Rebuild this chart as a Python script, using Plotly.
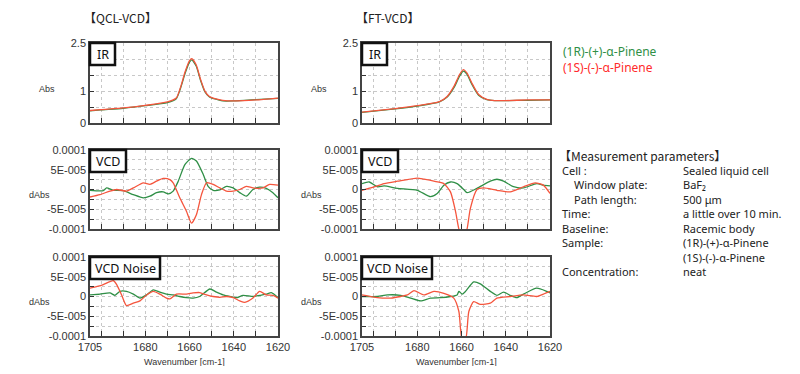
import plotly.graph_objects as go

# ---------------- data ----------------
# QCL-VCD IR
qcl_ir_wn_1r = [1705, 1700, 1690, 1680, 1670, 1666, 1664, 1662, 1660, 1659, 1657, 1655, 1653, 1651, 1649, 1645, 1640, 1630, 1620]
qcl_ir_1r = [0.38, 0.41, 0.46, 0.54, 0.64, 0.76, 1.10, 1.55, 1.90, 1.97, 1.78, 1.33, 0.97, 0.81, 0.76, 0.69, 0.69, 0.73, 0.77]
qcl_ir_wn_1s = [1705, 1700, 1690, 1680, 1670, 1666, 1664, 1662, 1660, 1659, 1657, 1655, 1653, 1651, 1649, 1645, 1640, 1630, 1620]
qcl_ir_1s = [0.39, 0.42, 0.47, 0.55, 0.66, 0.78, 1.13, 1.60, 1.95, 2.01, 1.82, 1.36, 0.99, 0.83, 0.77, 0.71, 0.69, 0.72, 0.78]

# FT-VCD IR
ft_ir_wn_1r = [1705, 1690, 1680, 1670, 1666.5, 1663.3, 1661, 1659.2, 1657.5, 1655.4, 1652.3, 1648.6, 1645, 1640, 1630, 1620]
ft_ir_1r = [0.33, 0.44, 0.53, 0.66, 0.81, 1.12, 1.45, 1.62, 1.52, 1.22, 0.87, 0.73, 0.70, 0.70, 0.71, 0.72]
ft_ir_wn_1s = [1705, 1690, 1680, 1670, 1666.5, 1663.3, 1661, 1659.2, 1657.5, 1655.4, 1652.3, 1648.6, 1645, 1640, 1630, 1620]
ft_ir_1s = [0.34, 0.45, 0.54, 0.67, 0.83, 1.16, 1.50, 1.67, 1.56, 1.26, 0.89, 0.74, 0.70, 0.70, 0.72, 0.72]

# QCL-VCD VCD (units of 1e-5 dAbs)
qcl_vcd_wn_1r = [1705, 1699.0, 1697.5, 1694.5, 1690.0, 1685.4, 1680.9, 1677.9, 1674.9, 1671.9, 1669.6, 1667.4, 1665.1, 1662.1, 1659.1, 1656.9, 1653.8, 1651.6, 1649.3, 1646.3, 1643.3, 1640.3, 1637.3, 1634.3, 1631.3, 1628.3, 1625.3, 1622.3, 1620]
qcl_vcd_1r = [-0.2, -0.3, 0.4, -0.2, -0.3, -1.3, -2.1, -1.7, -0.8, -0.6, -1.1, -0.4, 2.1, 6.3, 7.9, 7.2, 3.8, 0.8, -0.2, -0.1, 0.8, 0.4, -0.8, -1.7, 0.0, 0.6, 0.3, -0.8, -2.1]
qcl_vcd_wn_1s = [1705, 1700.5, 1696.0, 1693.0, 1688.5, 1685.4, 1680.9, 1677.9, 1674.9, 1671.9, 1668.9, 1667.4, 1664.4, 1661.4, 1659.1, 1656.9, 1654.6, 1652.3, 1649.3, 1646.3, 1643.3, 1640.3, 1637.3, 1634.3, 1631.3, 1626.8, 1623.8, 1620]
qcl_vcd_1s = [-1.9, -1.3, -0.4, 0.0, -0.4, 0.4, 1.7, 1.3, 2.1, 2.8, 2.5, 1.7, -2.1, -5.5, -8.5, -6.4, -1.3, 1.7, 1.3, 0.4, -0.4, -0.4, 0.0, 0.8, 0.4, 0.4, 1.3, 1.1]

# QCL-VCD noise (units of 1e-5 dAbs)
qcl_noise_wn_1r = [1705, 1700.5, 1696.0, 1693.7, 1691.5, 1688.5, 1685.4, 1682.4, 1679.4, 1676.4, 1673.4, 1670.4, 1667.4, 1664.4, 1661.4, 1658.4, 1655.4, 1650.8, 1647.8, 1644.8, 1641.8, 1638.8, 1635.8, 1631.3, 1628.3, 1625.3, 1623.0, 1620]
qcl_noise_1r = [0.4, 0.6, 0.9, 0.3, 1.3, 1.3, 0.6, -0.4, 0.4, 1.7, 1.1, 0.6, 0.4, 0.0, -0.3, -0.4, 0.0, 1.9, 1.1, 0.4, 0.0, -0.3, 0.3, 0.0, 0.3, 0.6, 1.0, -0.3]
qcl_noise_wn_1s = [1705, 1701.2, 1699.0, 1694.5, 1693.0, 1690.7, 1688.5, 1685.4, 1682.4, 1679.4, 1676.4, 1673.4, 1670.4, 1668.9, 1665.9, 1661.4, 1658.4, 1655.4, 1652.3, 1649.3, 1646.3, 1643.3, 1640.3, 1637.3, 1635.0, 1631.3, 1628.3, 1625.3, 1622.3, 1620]
qcl_noise_1s = [2.1, 2.6, 3.0, 4.0, 3.1, 0.4, -2.3, -1.7, -1.1, 0.4, 1.3, 0.6, -0.4, -0.6, 0.6, 0.6, 0.9, 1.0, 0.4, 0.0, -0.2, 0.0, -0.3, -1.1, -1.5, -0.4, 1.3, 0.4, 0.3, -0.4]

# FT-VCD VCD (units of 1e-5 dAbs)
ft_vcd_wn_1r = [1705, 1701.7, 1698.0, 1695.0, 1689.0, 1680.0, 1674.0, 1671.0, 1668.0, 1665.0, 1662.0, 1659.0, 1657.5, 1653.0, 1647.0, 1644.0, 1641.0, 1636.5, 1632.0, 1626.0, 1623.0, 1620]
ft_vcd_1r = [1.5, 1.9, 0.7, 0.9, 0.3, -0.2, -1.8, -1.0, 1.1, 1.9, 1.5, 0.0, -0.8, 0.3, 2.1, 2.6, 2.1, 0.7, 0.4, 1.5, 1.1, 0.9]
ft_vcd_wn_1s = [1705, 1701.0, 1695.0, 1689.0, 1680.0, 1677.0, 1672.5, 1668.0, 1665.0, 1662.7, 1661.2, 1659.3, 1657.5, 1656.0, 1653.0, 1650.0, 1644.0, 1638.0, 1632.0, 1626.7, 1623.0, 1620]
ft_vcd_1s = [-0.2, 0.4, 1.5, 2.1, 2.9, 2.6, 2.1, 1.5, -0.6, -5.6, -10.0, -13.0, -10.0, -4.8, 0.0, 0.4, -0.2, -0.6, 0.7, 1.7, 1.1, -1.0]

# FT-VCD noise (units of 1e-5 dAbs)
ft_noise_wn_1r = [1705, 1698.0, 1693.5, 1687.5, 1683.0, 1678.5, 1674.0, 1669.5, 1665.0, 1662.0, 1661.2, 1659.7, 1658.2, 1654.5, 1651.5, 1647.0, 1644.0, 1641.0, 1638.0, 1635.0, 1632.0, 1626.0, 1621.5, 1620]
ft_noise_1r = [0.0, 0.0, 0.4, 0.3, -0.4, -1.1, -0.4, -0.3, 0.0, 0.4, 1.3, 0.6, 1.3, 3.7, 3.2, 1.3, 0.3, 1.1, 0.3, -0.3, 0.6, 2.1, 1.3, 0.9]
ft_noise_wn_1s = [1705, 1698.0, 1692.0, 1687.5, 1684.5, 1681.5, 1677.0, 1672.5, 1668.0, 1663.5, 1661.2, 1659.7, 1658.2, 1656.7, 1654.5, 1651.5, 1647.0, 1644.0, 1638.0, 1632.0, 1626.0, 1623.0, 1620]
ft_noise_1s = [0.4, -0.3, -0.4, 0.0, 0.4, 1.5, 0.4, 1.3, 0.8, -0.4, -3.8, -11.0, -11.0, -3.8, -1.3, -2.0, -1.7, -0.4, 0.0, 0.4, 0.0, 0.6, 1.3]

x_tickvals = [1705, 1700, 1690, 1680, 1670, 1660, 1650, 1640, 1630, 1620]
x_ticktext = ["1705", "", "", "1680", "", "1660", "", "1640", "", "1620"]
ir_tickvals = [0, 0.5, 1, 1.5, 2, 2.5]
ir_ticktext = ["0", "", "1", "", "", "2.5"]
vcd_tickvals = [-1e-4, -7.5e-5, -5e-5, -2.5e-5, 0, 2.5e-5, 5e-5, 7.5e-5, 1e-4]
vcd_ticktext = ["-0.0001", "", "-5E-005", "", "0", "", "5E-005", "", "0.0001"]

col_titles = ["【QCL-VCD】", "【FT-VCD】"]
panel_labels = ["IR", "VCD", "VCD Noise"]
y_titles = ["Abs", "dAbs", "dAbs"]
series_names = ["(1R)-(+)-α-Pinene", "(1S)-(-)-α-Pinene"]
param_keys = ["Cell :", "  Window plate:", "  Path length:", "Time:", "Baseline:", "Sample:", "", "Concentration:"]
param_vals = ["Sealed liquid cell", "BaF₂", "500 μm", "a little over 10 min.", "Racemic body",
              "(1R)-(+)-α-Pinene", "(1S)-(-)-α-Pinene", "neat"]

GREEN = "#2f8f46"
RED = "#f5553d"
# page body has an 8px margin; the figure fills the rest of the 800x374 window
OFF = 8
W, H = 800 - 2 * OFF, 374 - 2 * OFF

def px(x):
    return (x - OFF) / W

def py(y):
    return 1 - (y - OFF) / H

fig = go.Figure()

col_x = [(90, 278), (362, 550)]
row_y = [(43, 123), (150, 229), (257, 336)]

panels = [
    [(qcl_ir_wn_1r, qcl_ir_1r, qcl_ir_wn_1s, qcl_ir_1s, 1.0),
     (qcl_vcd_wn_1r, qcl_vcd_1r, qcl_vcd_wn_1s, qcl_vcd_1s, 1e-5),
     (qcl_noise_wn_1r, qcl_noise_1r, qcl_noise_wn_1s, qcl_noise_1s, 1e-5)],
    [(ft_ir_wn_1r, ft_ir_1r, ft_ir_wn_1s, ft_ir_1s, 1.0),
     (ft_vcd_wn_1r, ft_vcd_1r, ft_vcd_wn_1s, ft_vcd_1s, 1e-5),
     (ft_noise_wn_1r, ft_noise_1r, ft_noise_wn_1s, ft_noise_1s, 1e-5)],
]

tickfont = dict(family="Liberation Sans, Arial", size=11, color="#333")
shapes = []
annotations = []
idx = 0
for c in range(2):
    for r in range(3):
        idx += 1
        xa = "x" if idx == 1 else f"x{idx}"
        ya = "y" if idx == 1 else f"y{idx}"
        wn1, v1, wn2, v2, scale = panels[c][r]
        for wn, v, col in ((wn1, v1, GREEN), (wn2, v2, RED)):
            fig.add_trace(go.Scatter(
                x=wn, y=[a * scale for a in v], mode="lines",
                line=dict(color=col, width=1.3, shape="spline", smoothing=0.6),
                xaxis=xa, yaxis=ya, showlegend=False, hoverinfo="skip"))
        x0, x1 = col_x[c]
        y0, y1 = row_y[r]
        xkey = "xaxis" if idx == 1 else f"xaxis{idx}"
        ykey = "yaxis" if idx == 1 else f"yaxis{idx}"
        fig.layout[xkey] = dict(
            domain=[px(x0), px(x1)], anchor=ya, range=[1705, 1620], automargin=False,
            tickmode="array", tickvals=x_tickvals, ticktext=x_ticktext,
            showticklabels=(r == 2), ticks="inside", ticklen=5, tickcolor="#333",
            showgrid=True, gridcolor="#c8c8c8", griddash="dot", gridwidth=1,
            showline=True, mirror=True, linecolor="#444", linewidth=1.5,
            zeroline=False, tickfont=tickfont, fixedrange=True)
        if r == 0:
            yr = [0, 2.5]; tv = ir_tickvals; tt = ir_ticktext
        else:
            yr = [-1e-4, 1e-4]; tv = vcd_tickvals; tt = vcd_ticktext
        fig.layout[ykey] = dict(
            domain=[py(y1), py(y0)], anchor=xa, range=yr, automargin=False,
            tickmode="array", tickvals=tv, ticktext=tt,
            ticks="inside", ticklen=4, tickcolor="#333",
            showgrid=True, gridcolor="#c8c8c8", griddash="dot", gridwidth=1,
            showline=True, mirror=True, linecolor="#444", linewidth=1.5,
            zeroline=False, tickfont=tickfont, fixedrange=True)
        # panel label box
        lbl = panel_labels[r]
        bw = {"IR": 25, "VCD": 36, "VCD Noise": 70}[lbl]
        shapes.append(dict(type="rect", xref="paper", yref="paper",
                           x0=px(x0), x1=px(x0 + bw), y0=py(y0 + 22), y1=py(y0),
                           line=dict(color="#111", width=2.5), fillcolor="white", layer="above"))
        annotations.append(dict(text=lbl, xref="paper", yref="paper",
                                x=px(x0 + bw / 2), y=py(y0 + 11), showarrow=False,
                                xanchor="center", yanchor="middle",
                                font=dict(family="Noto Sans", size=12.5, color="#111")))
        # y title
        annotations.append(dict(text=y_titles[r], xref="paper", yref="paper",
                                x=px(x0 - 38 + (5 if r == 0 else 0)),
                                y=py((y0 + y1) / 2 + (6 if r == 0 else 5)),
                                showarrow=False, xanchor="right", yanchor="middle",
                                font=dict(family="Liberation Sans, Arial", size=9, color="#333")))
    # column title
    annotations.append(dict(text=col_titles[c], xref="paper", yref="paper",
                            x=px(col_x[c][0] - 8), y=py(17), showarrow=False,
                            xanchor="left", yanchor="middle",
                            font=dict(family="Noto Sans CJK JP", size=12, color="#222")))
    annotations.append(dict(text="Wavenumber [cm-1]", xref="paper", yref="paper",
                            x=px((col_x[c][0] + col_x[c][1]) / 2), y=py(362), showarrow=False,
                            xanchor="center", yanchor="middle",
                            font=dict(family="Liberation Sans, Arial", size=9, color="#333")))

# legend-like text
for i, (name, col) in enumerate(zip(series_names, [GREEN, "#ff2a2a"])):
    annotations.append(dict(text=name, xref="paper", yref="paper",
                            x=px(561), y=py(52 + 16 * i), showarrow=False,
                            xanchor="left", yanchor="middle",
                            font=dict(family="Noto Sans", size=12, color=col)))

# measurement parameters
annotations.append(dict(text="【Measurement parameters】", xref="paper", yref="paper",
                        x=px(557), y=py(155), showarrow=False, xanchor="left", yanchor="middle",
                        font=dict(family="Noto Sans CJK JP", size=12, color="#222")))
for i, (k, v) in enumerate(zip(param_keys, param_vals)):
    yy = 170 + 14.5 * i
    if k:
        indent = 12 if k.startswith("  ") else 0
        annotations.append(dict(text=k.strip(), xref="paper", yref="paper",
                                x=px(560 + indent), y=py(yy), showarrow=False,
                                xanchor="left", yanchor="middle",
                                font=dict(family="Noto Sans", size=11, color="#222")))
    annotations.append(dict(text=v, xref="paper", yref="paper",
                            x=px(681), y=py(yy), showarrow=False,
                            xanchor="left", yanchor="middle",
                            font=dict(family="Noto Sans", size=11, color="#222")))

fig.update_layout(width=W, height=H, margin=dict(l=0, r=0, t=0, b=0, autoexpand=False),
                  paper_bgcolor="white", plot_bgcolor="white",
                  shapes=shapes, annotations=annotations, showlegend=False)
fig.write_html("out.html")
